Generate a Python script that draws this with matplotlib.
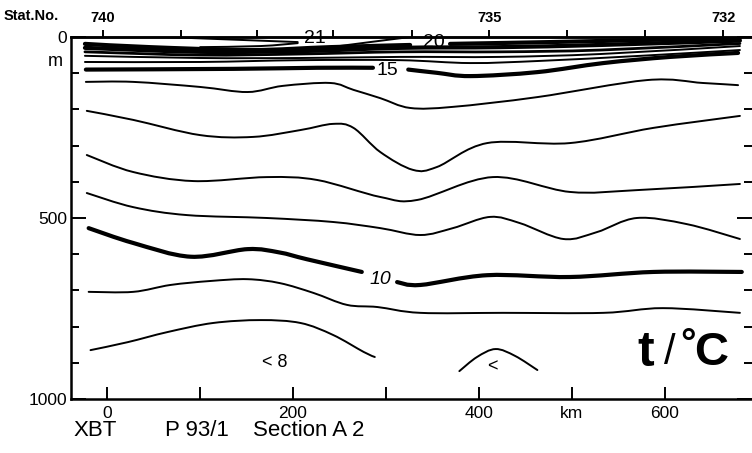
import numpy as np
import matplotlib.pyplot as plt
from matplotlib.path import Path
from matplotlib.patches import PathPatch

plt.rcParams['font.family'] = ['Liberation Sans', 'DejaVu Sans']

# stations along the section (km) and their numbers
station_km = [-5, 79, 161, 243, 328, 411, 495, 579, 663]
station_no = ['740', '', '', '', '', '735', '', '', '732']

# isotherms: distance (km) and depth (m)
t8_km = [-18, 22, 65, 114, 165, 208, 243, 276, 288]
t8_m = [865, 843, 815, 790, 782, 790, 823, 870, 884]
t8b_km = [379, 398, 418, 439, 463]
t8b_m = [923, 884, 862, 881, 920]

t9_km = [-20, 28, 68, 111, 151, 186, 222, 258, 291, 337, 426, 534, 598, 681]
t9_m = [704, 704, 685, 674, 669, 680, 707, 740, 746, 762, 762, 762, 749, 762]

t10a_km = [-20, 28, 90, 151, 185, 215, 274]
t10a_m = [528, 569, 607, 586, 595, 614, 649]
t10b_km = [312, 337, 409, 498, 588, 683]
t10b_m = [677, 685, 658, 663, 649, 649]

t11_km = [-22, 28, 86, 172, 243, 294, 337, 372, 412, 444, 491, 527, 570, 624, 681]
t11_m = [431, 470, 492, 500, 511, 528, 547, 528, 497, 514, 558, 539, 500, 517, 558]

t12_km = [-22, 28, 93, 172, 226, 294, 334, 415, 498, 570, 681]
t12_m = [326, 373, 398, 387, 395, 442, 450, 387, 428, 423, 406]

t13_km = [-22, 28, 100, 157, 208, 243, 265, 294, 329, 355, 409, 498, 588, 681]
t13_m = [204, 229, 271, 276, 257, 240, 251, 318, 367, 359, 293, 293, 251, 218]

t14_km = [-23, 28, 100, 151, 189, 240, 265, 294, 326, 372, 463, 581, 641, 679]
t14_m = [124, 124, 138, 152, 135, 127, 146, 169, 196, 193, 166, 119, 127, 133]

t15a_km = [-23, 136, 226, 286]
t15a_m = [90, 88, 85, 85]
t15b_km = [324, 355, 391, 463, 534, 606, 679]
t15b_m = [90, 99, 108, 97, 72, 55, 44]

t16_km = [-24, 100, 208, 315, 391, 466, 574, 681]
t16_m = [69, 69, 64, 64, 72, 66, 52, 36]
t17_km = [-24, 100, 208, 315, 423, 531, 681]
t17_m = [52, 58, 58, 55, 55, 47, 25]
t18_km = [-24, 100, 208, 315, 423, 531, 681]
t18_m = [41, 50, 47, 41, 41, 36, 18]
t19_km = [-24, 100, 208, 315, 423, 531, 681]
t19_m = [30, 41, 39, 30, 28, 22, 10]

t20a_km = [-24, 46, 154, 240, 326]
t20a_m = [19, 28, 36, 28, 22]
t20b_km = [369, 477, 584, 681]
t20b_m = [19, 14, 8, 3]

t21a_km = [62, 143, 205]
t21a_m = [0, 8, 14]
t21b_km = [100, 165, 205]
t21b_m = [28, 25, 17]
t21c_km = [235, 283, 326]
t21c_m = [30, 14, 0]


def smooth_path(xs, ys):
    # catmull-rom through the points, as bezier curves
    pts = np.column_stack([xs, ys]).astype(float)
    n = len(pts)
    verts = [pts[0]]
    codes = [Path.MOVETO]
    for i in range(n - 1):
        p0 = pts[max(i - 1, 0)]
        p1 = pts[i]
        p2 = pts[i + 1]
        p3 = pts[min(i + 2, n - 1)]
        verts += [p1 + (p2 - p0) / 6, p2 - (p3 - p1) / 6, p2]
        codes += [Path.CURVE4] * 3
    return Path(verts, codes)


thin = 1.4
thick = 3.0
lines = [
    (t8_km, t8_m, thin), (t8b_km, t8b_m, thin), (t9_km, t9_m, thin),
    (t10a_km, t10a_m, thick), (t10b_km, t10b_m, thick),
    (t11_km, t11_m, thin), (t12_km, t12_m, thin), (t13_km, t13_m, thin),
    (t14_km, t14_m, thin),
    (t15a_km, t15a_m, thick), (t15b_km, t15b_m, thick),
    (t16_km, t16_m, thin), (t17_km, t17_m, thin), (t18_km, t18_m, 2.0),
    (t19_km, t19_m, thick),
    (t20a_km, t20a_m, thick), (t20b_km, t20b_m, thick),
    (t21a_km, t21a_m, thin), (t21b_km, t21b_m, thin), (t21c_km, t21c_m, thin),
]

fig = plt.figure(figsize=(7.52, 4.53), dpi=100)
ax = fig.add_axes([71 / 752, 1 - 399 / 453, 681 / 752, 362 / 453])
ax.set_xlim(-39, 694)
ax.set_ylim(1000, 0)

for xs, ys, lw in lines:
    ax.add_patch(PathPatch(smooth_path(xs, ys), fill=False, lw=lw,
                           edgecolor='black', capstyle='round'))

# contour labels
ax.text(224, 3, '21', fontsize=14, ha='center', va='center')
ax.text(352, 14, '20', fontsize=14, ha='center', va='center')
ax.text(301, 92, '15', fontsize=14, ha='center', va='center')
ax.text(294, 671, '10', fontsize=14, ha='center', va='center', style='italic')
ax.text(180, 898, '< 8', fontsize=13, ha='center', va='center')
ax.text(415, 912, '<', fontsize=13, ha='center', va='center')

# axes
for s in ['top', 'left', 'bottom']:
    ax.spines[s].set_linewidth(1.8)
ax.spines['right'].set_visible(False)

ax.set_xticks([0, 100, 200, 300, 400, 500, 600])
ax.set_xticklabels(['0', '', '200', '', '400', 'km', '600'])
ax.tick_params(axis='x', direction='in', length=9, width=1.4, labelsize=12.5, pad=5,
               top=False)

ax.set_yticks([0, 500, 1000])
ax.set_yticklabels(['0', '500', '1000'])
ax.set_yticks([100, 200, 300, 400, 600, 700, 800, 900], minor=True)
ax.tick_params(axis='y', which='major', direction='in', length=11, width=1.4,
               labelsize=12.5, pad=3, left=True, right=True)
ax.tick_params(axis='y', which='minor', direction='in', length=6, width=1.4,
               left=True, right=True)
ax.text(-0.012, 69, 'm', fontsize=13, ha='right', va='center',
        transform=ax.get_yaxis_transform())

# station ticks on top
ax2 = ax.twiny()
ax2.set_xlim(ax.get_xlim())
ax2.set_xticks(station_km)
ax2.set_xticklabels(station_no)
ax2.tick_params(axis='x', direction='out', length=5, width=1.4, labelsize=10.5, pad=4)
for lbl in ax2.get_xticklabels():
    lbl.set_fontweight('bold')
for s in ['left', 'right', 'bottom']:
    ax2.spines[s].set_visible(False)
ax2.spines['top'].set_linewidth(1.8)

fig.text(4 / 752, 1 - 16 / 453, 'Stat.No.', fontsize=10.5, fontweight='bold', va='center')

# caption below the section
fig.text(73 / 752, 1 - 431 / 453, 'XBT', fontsize=16, va='center')
fig.text(165 / 752, 1 - 431 / 453, 'P 93/1', fontsize=16, va='center')
fig.text(253 / 752, 1 - 431 / 453, 'Section A 2', fontsize=16, va='center')

# t / °C mark, pieces set one by one
fig.text(637 / 752, 1 - 353 / 453, 't', fontsize=36, fontweight='bold',
         ha='left', va='center')
fig.text(670 / 752, 1 - 353 / 453, '/', fontsize=30, ha='center', va='center')
fig.text(680 / 752, 1 - 345 / 453, '°', fontsize=28, fontweight='bold',
         ha='left', va='center')
fig.text(728 / 752, 1 - 353 / 453, 'C', fontsize=34, fontweight='bold',
         ha='right', va='center')

fig.savefig('out.png', dpi=100, facecolor='white')
